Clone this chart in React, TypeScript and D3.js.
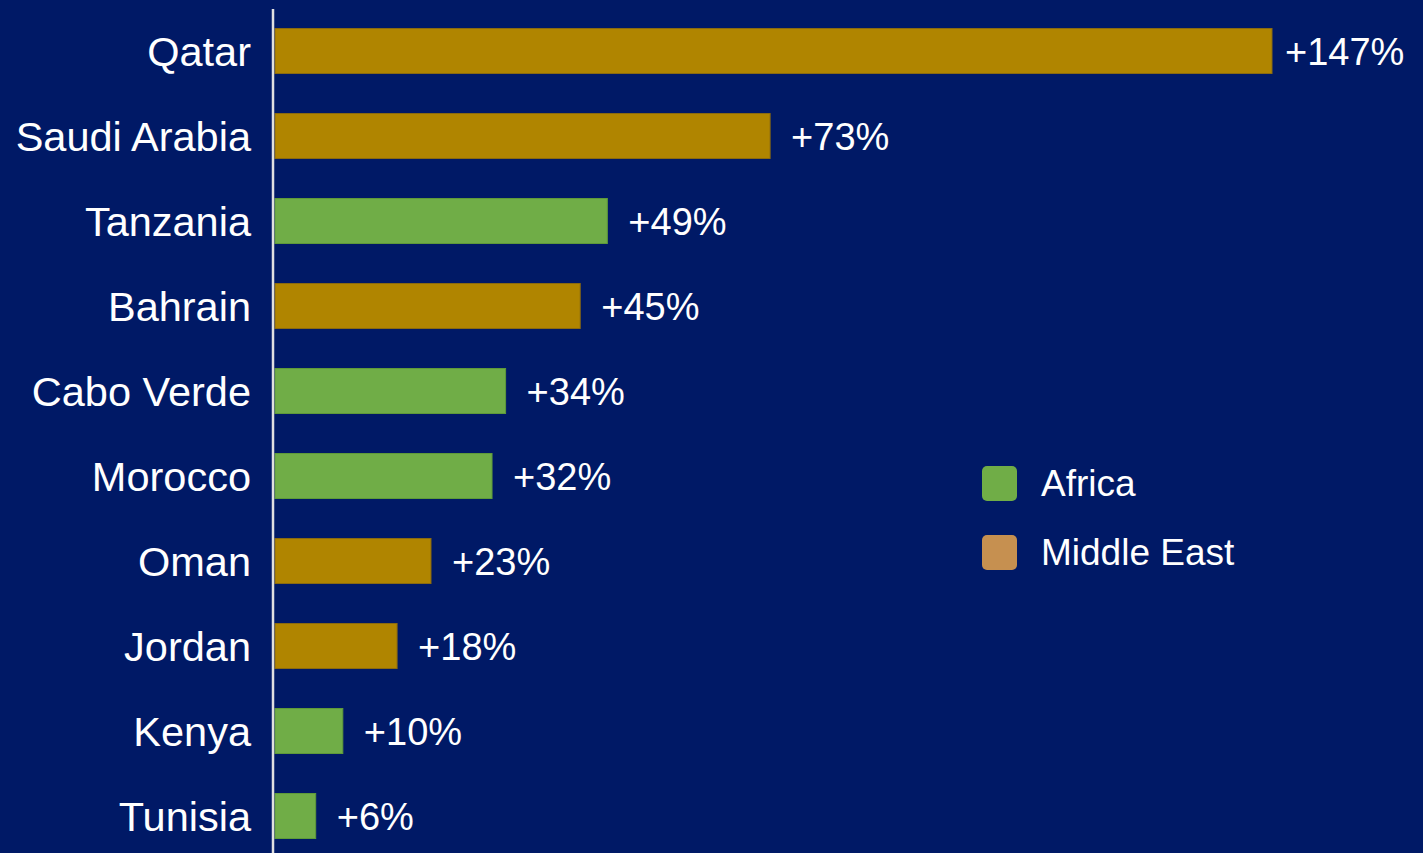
import { useEffect } from "react";
import { scaleLinear, scalePoint } from "d3";

const countries = [
  "Qatar",
  "Saudi Arabia",
  "Tanzania",
  "Bahrain",
  "Cabo Verde",
  "Morocco",
  "Oman",
  "Jordan",
  "Kenya",
  "Tunisia",
];
const growth = [147, 73, 49, 45, 34, 32, 23, 18, 10, 6];
const regions = [
  "Middle East",
  "Middle East",
  "Africa",
  "Middle East",
  "Africa",
  "Africa",
  "Middle East",
  "Middle East",
  "Africa",
  "Africa",
];
const legendItems = ["Africa", "Middle East"];

const barColor: Record<string, string> = {
  Africa: "#70ad47",
  "Middle East": "#b08500",
};
const swatchColor: Record<string, string> = {
  Africa: "#70ad47",
  "Middle East": "#c69050",
};

export default function App() {
  const width = 1423;
  const height = 853;
  const axisX = 273;
  const barStart = 275;
  const barHeight = 45;
  const labelGap = 21;
  const maxLabelX = 1285;
  const font = "'Liberation Sans', Arial, sans-serif";

  useEffect(() => {
    document.body.style.margin = "0";
    document.body.style.background = "#001966";
  }, []);

  const x = scaleLinear().domain([0, 147]).range([barStart, 1272]);
  const y = scalePoint<string>().domain(countries).range([51, 816]);

  const legendY = scalePoint<string>().domain(legendItems).range([483, 552]);

  return (
    <svg width={width} height={height} style={{ display: "block", background: "#001966" }}>
      {countries.map((c, i) => {
        const cy = y(c) ?? 0;
        return (
          <g key={c}>
            <rect
              x={barStart}
              y={cy - barHeight / 2}
              width={x(growth[i]) - barStart}
              height={barHeight}
              fill={barColor[regions[i]]}
              stroke={regions[i] === "Africa" ? "#5e9a3a" : "#8a6a10"}
              strokeWidth={1}
            />
            <text
              x={251}
              y={cy}
              dy="0.35em"
              textAnchor="end"
              fill="#ffffff"
              fontFamily={font}
              fontSize={41.5}
            >
              {c}
            </text>
            <text
              x={Math.min(x(growth[i]) + labelGap, maxLabelX)}
              y={cy}
              dy="0.37em"
              fill="#ffffff"
              fontFamily={font}
              fontSize={38}
            >
              +{growth[i]}%
            </text>
          </g>
        );
      })}

      <line x1={axisX} x2={axisX} y1={9} y2={height} stroke="#e0e0e0" strokeWidth={2.5} />

      {legendItems.map((item) => {
        const ly = legendY(item) ?? 0;
        return (
          <g key={item}>
            <rect
              x={982}
              y={ly - 17}
              width={35}
              height={35}
              rx={5}
              fill={swatchColor[item]}
            />
            <text
              x={1041}
              y={ly}
              dy="0.36em"
              fill="#ffffff"
              fontFamily={font}
              fontSize={37}
            >
              {item}
            </text>
          </g>
        );
      })}
    </svg>
  );
}
